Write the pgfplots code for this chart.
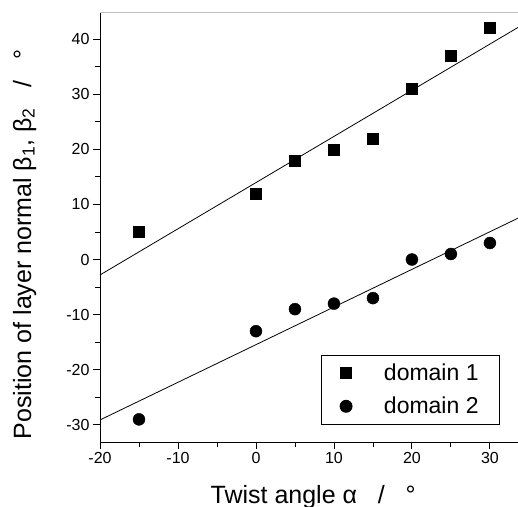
\documentclass[border=0pt]{standalone}
\usepackage{fontspec}
\setmainfont{Liberation Sans}
\usepackage{pgfplots}
\pgfplotsset{compat=1.18}
\begin{document}
\begin{tikzpicture}
\useasboundingbox (-100bp,-65bp) rectangle (418bp,442bp);
\begin{axis}[
  at={(0,0)}, anchor=south west,
  scale only axis, width=418bp, height=430bp,
  xmin=-20, xmax=33.6, ymin=-33.1, ymax=44.9,
  axis x line*=bottom, axis y line*=left,
  axis line style={line width=0.9pt},
  xtick={-20,-10,...,30}, ytick={-30,-20,...,40},
  minor x tick num=1, minor y tick num=1,
  tick align=outside, major tick length=7bp, minor tick length=5bp,
  every tick/.style={black, line width=0.9pt},
  ticklabel style={font=\fontsize{16bp}{18bp}\selectfont},
  /pgf/number format/assume math mode=true,
  xlabel={Twist angle α\ \ \ /\ \ \ °},
  ylabel={Position of layer normal β\textsubscript{1}, β\textsubscript{2}\ \ \ /\ \ \ °},
  label style={font=\fontsize{25bp}{28bp}\selectfont},
  xlabel style={at={(axis description cs:0.51,0)}, anchor=base, yshift=-61bp},
  ylabel style={at={(axis description cs:-0.165,0.46)}, anchor=base},
  legend style={at={(axis description cs:0.957,0.04)}, anchor=south east,
    draw=black, line width=0.9pt, font=\fontsize{23bp}{26bp}\selectfont,
    inner xsep=19bp, inner ysep=7bp, row sep=11bp},
  legend cell align=left,
  legend image code/.code={\draw[#1] plot coordinates {(0.5cm,0cm)};},
  clip=true,
]
\addplot[only marks, mark=square*, mark size=5.5bp, black] coordinates {
  (-15,5) (0,12) (5,18) (10,20) (15,22) (20,31) (25,37) (30,42)};
\addlegendentry{\hspace{1.3em}domain 1}
\addplot[only marks, mark=*, mark size=6bp, black] coordinates {
  (-15,-29) (0,-13) (5,-9) (10,-8) (15,-7) (20,0) (25,1) (30,3)};
\addlegendentry{\hspace{1.3em}domain 2}
\addplot[black, line width=0.8pt, forget plot] coordinates {(-20,-2.8) (33.6,42.1)};
\addplot[black, line width=0.8pt, forget plot] coordinates {(-20,-29.1) (33.6,7.5)};
\draw[gray!50, line width=0.6pt] (rel axis cs:0,1) -- (rel axis cs:1,1);
\end{axis}
\end{tikzpicture}
\end{document}
